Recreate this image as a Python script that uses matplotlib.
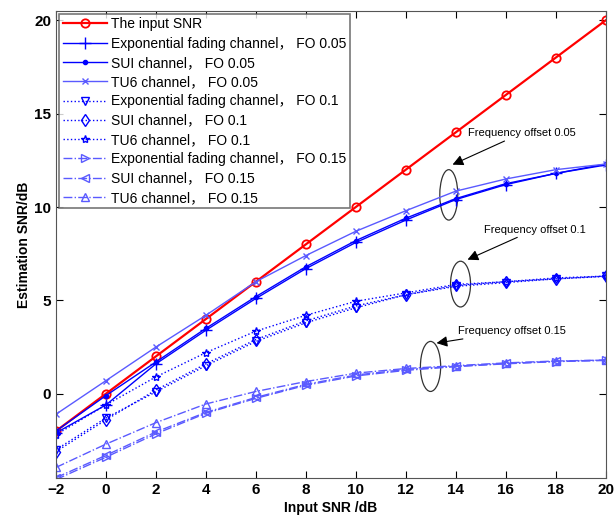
import numpy as np
import matplotlib
matplotlib.use('Agg')
from matplotlib import pyplot as plt
from matplotlib.patches import Ellipse

snr_in = [-2, 0, 2, 4, 6, 8, 10, 12, 14, 16, 18, 20]

# FO 0.05
exp_05 = [-2.1, -0.6, 1.6, 3.4, 5.1, 6.7, 8.1, 9.3, 10.4, 11.2, 11.8, 12.25]
sui_05 = [-2.0, -0.1, 1.7, 3.5, 5.2, 6.8, 8.2, 9.4, 10.45, 11.25, 11.8, 12.3]
tu6_05 = [-1.1, 0.7, 2.5, 4.2, 6.0, 7.4, 8.7, 9.8, 10.85, 11.5, 12.0, 12.3]
# FO 0.1
exp_10 = [-3.0, -1.3, 0.1, 1.5, 2.8, 3.8, 4.6, 5.3, 5.75, 5.95, 6.15, 6.28]
sui_10 = [-3.1, -1.4, 0.2, 1.6, 2.9, 3.9, 4.7, 5.3, 5.8, 6.0, 6.15, 6.3]
tu6_10 = [-2.2, -0.6, 0.9, 2.2, 3.35, 4.2, 4.95, 5.4, 5.85, 6.0, 6.2, 6.3]
# FO 0.15
exp_15 = [-4.6, -3.4, -2.15, -1.05, -0.25, 0.45, 0.95, 1.25, 1.45, 1.6, 1.72, 1.78]
sui_15 = [-4.5, -3.3, -2.05, -1.0, -0.2, 0.5, 1.0, 1.3, 1.47, 1.62, 1.73, 1.8]
tu6_15 = [-3.95, -2.7, -1.55, -0.55, 0.12, 0.65, 1.1, 1.35, 1.5, 1.65, 1.75, 1.8]

labels = ['The input SNR',
          'Exponential fading channel\uff0c FO 0.05',
          'SUI channel\uff0c FO 0.05',
          'TU6 channel\uff0c FO 0.05',
          'Exponential fading channel\uff0c FO 0.1',
          'SUI channel\uff0c FO 0.1',
          'TU6 channel\uff0c FO 0.1',
          'Exponential fading channel\uff0c FO 0.15',
          'SUI channel\uff0c FO 0.15',
          'TU6 channel\uff0c FO 0.15']

plt.rcParams['font.family'] = ['Liberation Sans', 'Noto Sans CJK SC', 'DejaVu Sans']

fig = plt.figure(figsize=(6.14, 5.18), dpi=100)
ax = fig.add_axes([0.0912, 0.0778, 0.8953, 0.901])

blue = '#0000ff'
light = '#5a5aff'
ax.plot(snr_in, snr_in, '-o', color='red', lw=1.6, ms=6, mfc='none', mew=1.3, label=labels[0])
ax.plot(snr_in, exp_05, '-', color=blue, marker='+', lw=1.0, ms=8, label=labels[1])
ax.plot(snr_in, sui_05, '-', color=blue, marker='.', lw=1.0, ms=6, label=labels[2])
ax.plot(snr_in, tu6_05, '-', color=light, marker='x', lw=1.0, ms=4, label=labels[3])
ax.plot(snr_in, exp_10, ':', color=blue, marker='v', lw=1.0, ms=6, mfc='none', label=labels[4])
ax.plot(snr_in, sui_10, ':', color=blue, marker='d', lw=1.0, ms=6, mfc='none', label=labels[5])
ax.plot(snr_in, tu6_10, ':', color=blue, marker='*', lw=1.0, ms=6, mfc='none', label=labels[6])
ax.plot(snr_in, exp_15, '-.', color=light, marker='>', lw=1.0, ms=6, mfc='none', label=labels[7])
ax.plot(snr_in, sui_15, '-.', color=light, marker='<', lw=1.0, ms=6, mfc='none', label=labels[8])
ax.plot(snr_in, tu6_15, '-.', color=light, marker='^', lw=1.0, ms=6, mfc='none', label=labels[9])

ax.set_xlim(-2, 20)
ax.set_ylim(-4.5, 20.5)
ax.set_xticks(range(-2, 21, 2))
ax.set_yticks([0, 5, 10, 15, 20])
ax.grid(False)
ax.tick_params(direction='in', length=5, labelsize=11, top=True, right=True)
for t in ax.get_xticklabels() + ax.get_yticklabels():
    t.set_fontweight('bold')
ax.set_xlabel('Input SNR /dB', fontsize=10, fontweight='bold', labelpad=3)
ax.set_ylabel('Estimation SNR/dB', fontsize=10, fontweight='bold', labelpad=2)
for s in ax.spines.values():
    s.set_color('#555555')

leg = ax.legend(loc='upper left', bbox_to_anchor=(0.006, 0.994), fontsize=10, frameon=True,
                fancybox=False, borderpad=0.25, labelspacing=0.38, handlelength=3.2,
                handletextpad=0.3, borderaxespad=0.0)
leg.get_frame().set_edgecolor('#555555')
leg.get_frame().set_linewidth(1.2)

for cx, cy, w, h in [(13.72, 10.65, 0.72, 2.7), (14.19, 5.87, 0.8, 2.45), (12.99, 1.46, 0.81, 2.68)]:
    ax.add_patch(Ellipse((cx, cy), w, h, fill=False, color='#333333', lw=0.9))

arrow = dict(arrowstyle='-|>', color='black', lw=0.8, mutation_scale=16, shrinkA=0, shrinkB=0)
ax.annotate('Frequency offset 0.05', xy=(13.87, 12.27), xytext=(14.48, 13.95), fontsize=8,
            va='center', arrowprops=arrow)
ax.annotate('Frequency offset 0.1', xy=(14.47, 7.18), xytext=(15.12, 8.79), fontsize=8,
            va='center', arrowprops=arrow)
ax.annotate('Frequency offset 0.15', xy=(13.23, 2.71), xytext=(14.09, 3.35), fontsize=8,
            va='center', arrowprops=arrow)

fig.savefig('out.png', dpi=100)
